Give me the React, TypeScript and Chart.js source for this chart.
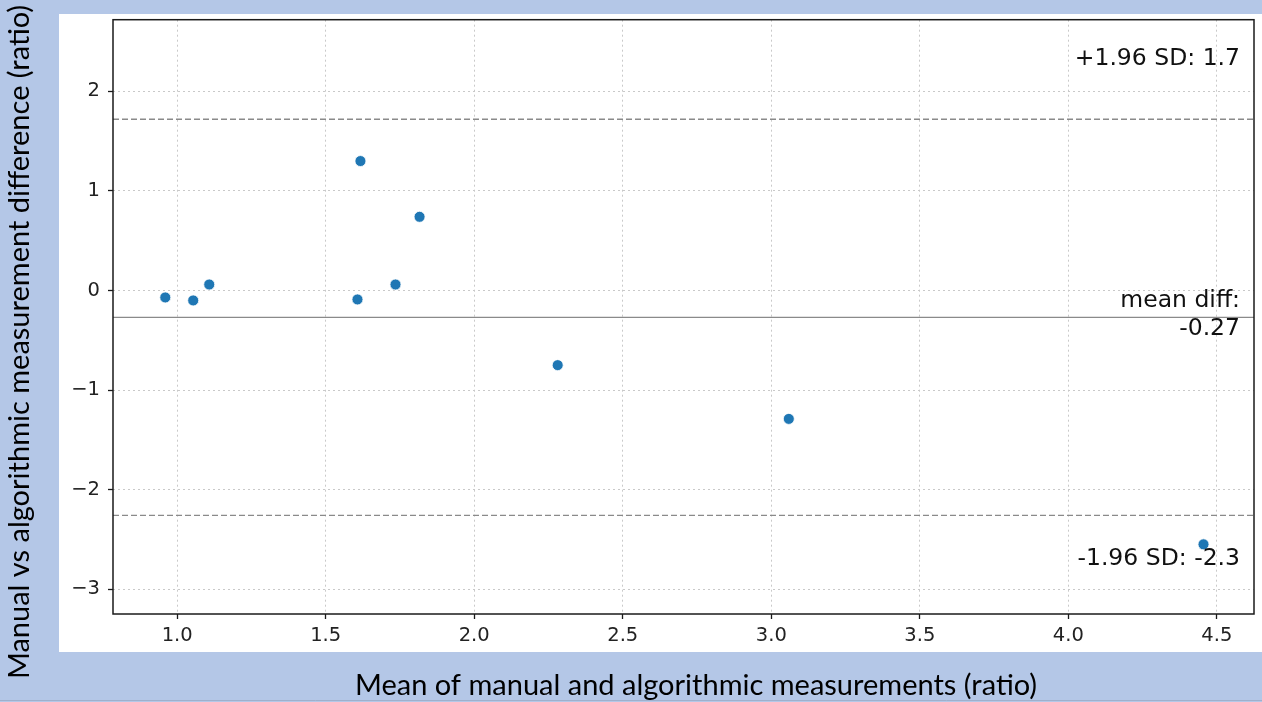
import React, { useEffect, useRef } from "react";
import { Chart, registerables } from "chart.js";

Chart.register(...registerables);

// Data
const meanValues = [0.96, 1.054, 1.108, 1.607, 1.617, 1.735, 1.816, 2.281, 3.059, 4.455];
const diffValues = [-0.07, -0.1, 0.06, -0.09, 1.3, 0.06, 0.74, -0.75, -1.29, -2.55];

const meanDiff = -0.27;
const upperLimit = 1.72;
const lowerLimit = -2.26;

const xRange = [0.784, 4.625];
const yRange = [-3.25, 2.72];

const upperLabel = "+1.96 SD: 1.7";
const meanLabelLines = ["mean diff:", "-0.27"];
const lowerLabel = "-1.96 SD: -2.3";

const xTitle = "Mean of manual and algorithmic measurements (ratio)";
const yTitle = "Manual vs algorithmic measurement difference (ratio)";

const BLUE = "#b4c7e7";
const DOT = "#1f77b4";
const TICK_FONT = "DejaVu Sans";

const decorPlugin = {
  id: "decor",
  beforeDraw(chart: any) {
    const { ctx, width, height } = chart;
    ctx.save();
    ctx.fillStyle = BLUE;
    ctx.fillRect(0, 0, width, height);
    ctx.fillStyle = "#ffffff";
    ctx.fillRect(59, 14, width - 59, 652 - 14);
    ctx.strokeStyle = "#9fb0cc";
    ctx.lineWidth = 1;
    ctx.beginPath();
    ctx.moveTo(0, 700.5);
    ctx.lineTo(width, 700.5);
    ctx.stroke();
    ctx.restore();
  },
  afterDraw(chart: any) {
    const { ctx, chartArea } = chart;
    const y = chart.scales.y;
    ctx.save();
    // frame
    ctx.strokeStyle = "#1a1a1a";
    ctx.lineWidth = 1.5;
    ctx.strokeRect(chartArea.left, chartArea.top, chartArea.right - chartArea.left, chartArea.bottom - chartArea.top);

    // annotations
    ctx.fillStyle = "#111111";
    ctx.font = `23.5px '${TICK_FONT}'`;
    ctx.textAlign = "right";
    ctx.textBaseline = "middle";
    const tx = chartArea.right - 14;
    ctx.fillText(upperLabel, tx, y.getPixelForValue(upperLimit) - 60);
    const mp = y.getPixelForValue(meanDiff);
    ctx.fillText(meanLabelLines[0], tx, mp - 16);
    ctx.fillText(meanLabelLines[1], tx, mp + 12);
    ctx.fillText(lowerLabel, tx, y.getPixelForValue(lowerLimit) + 43);

    // axis titles (slide text)
    ctx.fillStyle = "#000000";
    ctx.font = "29px 'Lato'";
    ctx.textAlign = "center";
    ctx.textBaseline = "middle";
    ctx.fillText(xTitle, 696, 686);
    ctx.translate(20, 342);
    ctx.rotate(-Math.PI / 2);
    ctx.fillText(yTitle, 0, 0);
    ctx.restore();
  },
};

export default function App() {
  const ref = useRef<HTMLCanvasElement | null>(null);

  useEffect(() => {
    if (!ref.current) return;
    const points = meanValues.map((x, i) => ({ x, y: diffValues[i] }));
    const chart = new Chart(ref.current, {
      type: "scatter",
      data: {
        datasets: [
          {
            label: "mean diff",
            type: "line",
            data: [
              { x: xRange[0], y: meanDiff },
              { x: xRange[1], y: meanDiff },
            ],
            borderColor: "#8a8a8a",
            borderWidth: 1.3,
            pointRadius: 0,
            fill: false,
          } as any,
          {
            label: "+1.96 SD",
            type: "line",
            data: [
              { x: xRange[0], y: upperLimit },
              { x: xRange[1], y: upperLimit },
            ],
            borderColor: "#8a8a8a",
            borderWidth: 1.3,
            borderDash: [6, 3],
            pointRadius: 0,
            fill: false,
          } as any,
          {
            label: "-1.96 SD",
            type: "line",
            data: [
              { x: xRange[0], y: lowerLimit },
              { x: xRange[1], y: lowerLimit },
            ],
            borderColor: "#8a8a8a",
            borderWidth: 1.3,
            borderDash: [6, 3],
            pointRadius: 0,
            fill: false,
          } as any,
          {
            label: "differences",
            data: points,
            backgroundColor: DOT,
            borderColor: "#ffffff",
            borderWidth: 0.8,
            pointRadius: 5.5,
            pointHoverRadius: 5.5,
          },
        ],
      },
      options: {
        animation: false,
        responsive: false,
        maintainAspectRatio: false,
        layout: { padding: { top: 17, right: 8, left: 0, bottom: 0 } },
        plugins: {
          legend: { display: false },
          tooltip: { enabled: false },
          title: { display: false },
        },
        scales: {
          x: {
            type: "linear",
            min: xRange[0],
            max: xRange[1],
            afterFit: (s: any) => {
              s.height = 88;
            },
            ticks: {
              stepSize: 0.5,
              includeBounds: false,
              color: "#222222",
              font: { family: TICK_FONT, size: 19.5 },
              padding: 5,
              maxRotation: 0,
              callback: (v: any) => Number(v).toFixed(1),
            },
            grid: {
              color: "#c9c9c9",
              lineWidth: 1,
              tickLength: 5,
              tickColor: "#1a1a1a",
              tickWidth: 1.3,
            },
            border: { display: false, dash: [2, 3] },
          },
          y: {
            type: "linear",
            min: yRange[0],
            max: yRange[1],
            afterFit: (s: any) => {
              s.width = 113;
            },
            ticks: {
              stepSize: 1,
              includeBounds: false,
              color: "#222222",
              font: { family: TICK_FONT, size: 19.5 },
              padding: 8,
              callback: (v: any) => {
                const n = Math.round(Number(v));
                return n < 0 ? "\u2212" + Math.abs(n) : String(n);
              },
            },
            grid: {
              color: "#c9c9c9",
              lineWidth: 1,
              tickLength: 5,
              tickColor: "#1a1a1a",
              tickWidth: 1.3,
            },
            border: { display: false, dash: [2, 3] },
          },
        },
      },
      plugins: [decorPlugin],
    } as any);
    return () => chart.destroy();
  }, []);

  return (
    <div style={{ position: "fixed", left: 0, top: 0, width: 1262, height: 702 }}>
      <canvas ref={ref} width={1262} height={702} style={{ width: 1262, height: 702, display: "block" }} />
    </div>
  );
}
